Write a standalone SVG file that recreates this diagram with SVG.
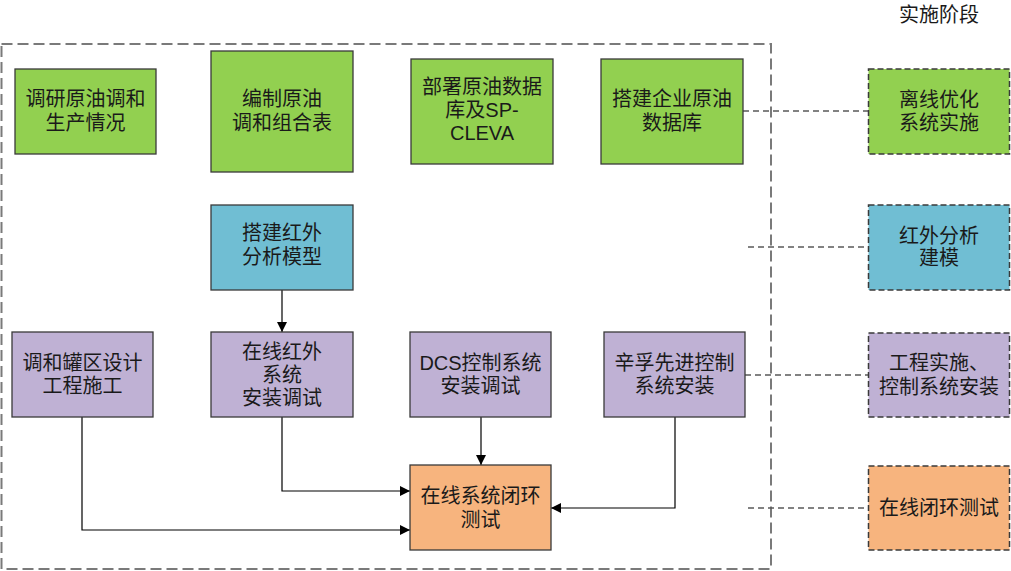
<svg xmlns="http://www.w3.org/2000/svg" width="1011" height="571" viewBox="0 0 1011 571">
  <defs>
    <marker id="arrow" viewBox="0 0 10 10" refX="10" refY="5" markerWidth="10" markerHeight="10" markerUnits="userSpaceOnUse" orient="auto">
      <path d="M0,0 L10,5 L0,10 Z" fill="#000"/>
    </marker>
    <style>
      text { font-family: "Liberation Sans", "Noto Sans CJK SC", sans-serif; font-size: 20px; fill: #1a1a1a; text-anchor: middle; }
      .box { stroke: #3a3a3a; stroke-width: 1.3; }
      .stage { stroke: #3a3a3a; stroke-width: 1.5; stroke-dasharray: 6 3; }
      .green { fill: #92D050; }
      .blue { fill: #70BED3; }
      .purple { fill: #BFB1D4; }
      .orange { fill: #F7B47E; }
      .flow { fill: none; stroke: #000; stroke-width: 1.2; }
      .link { fill: none; stroke: #5a5a5a; stroke-width: 1.5; stroke-dasharray: 6 4; }
    </style>
  </defs>

  <rect width="1011" height="571" fill="#fff"/>

  <!-- outer boundary of the implementation tasks -->
  <rect x="1.5" y="44" width="769.5" height="525" fill="none" stroke="#7a7a7a" stroke-width="2" stroke-dasharray="11 5"/>

  <text x="939" y="22">实施阶段</text>

  <!-- connectors -->
  <g id="connectors">
    <line class="link" x1="743" y1="111" x2="868" y2="111"/>
    <line class="link" x1="748" y1="247" x2="868" y2="247"/>
    <line class="link" x1="745" y1="375" x2="868" y2="375"/>
    <line class="link" x1="748" y1="508" x2="868" y2="508"/>

    <line class="flow" x1="282" y1="290" x2="282" y2="332" marker-end="url(#arrow)"/>
    <polyline class="flow" points="282,417 282,491 410,491" marker-end="url(#arrow)"/>
    <polyline class="flow" points="82,417 82,530 410,530" marker-end="url(#arrow)"/>
    <line class="flow" x1="481" y1="417" x2="481" y2="465" marker-end="url(#arrow)"/>
    <polyline class="flow" points="675,417 675,508 551,508" marker-end="url(#arrow)"/>
  </g>

  <!-- task nodes -->
  <g id="n-survey">
    <rect class="box green" x="15" y="69" width="141" height="85"/>
    <text><tspan x="85.5" y="106">调研原油调和</tspan><tspan x="85.5" y="130">生产情况</tspan></text>
  </g>
  <g id="n-recipe">
    <rect class="box green" x="211" y="51" width="142" height="121"/>
    <text><tspan x="282" y="106">编制原油</tspan><tspan x="282" y="130">调和组合表</tspan></text>
  </g>
  <g id="n-deploy">
    <rect class="box green" x="411" y="59" width="142" height="105"/>
    <text><tspan x="482" y="94">部署原油数据</tspan><tspan x="482" y="117">库及SP-</tspan><tspan x="482" y="140">CLEVA</tspan></text>
  </g>
  <g id="n-database">
    <rect class="box green" x="601" y="59" width="142" height="105"/>
    <text><tspan x="672" y="106">搭建企业原油</tspan><tspan x="672" y="130">数据库</tspan></text>
  </g>
  <g id="n-ir-model">
    <rect class="box blue" x="211" y="205" width="142" height="85"/>
    <text><tspan x="282" y="240">搭建红外</tspan><tspan x="282" y="264">分析模型</tspan></text>
  </g>
  <g id="n-tank">
    <rect class="box purple" x="12" y="332" width="141" height="85"/>
    <text><tspan x="82.5" y="370">调和罐区设计</tspan><tspan x="82.5" y="393">工程施工</tspan></text>
  </g>
  <g id="n-ir-online">
    <rect class="box purple" x="211" y="332" width="142" height="85"/>
    <text><tspan x="282" y="359">在线红外</tspan><tspan x="282" y="382">系统</tspan><tspan x="282" y="405">安装调试</tspan></text>
  </g>
  <g id="n-dcs">
    <rect class="box purple" x="410" y="332" width="141" height="85"/>
    <text><tspan x="480.5" y="370">DCS控制系统</tspan><tspan x="480.5" y="393">安装调试</tspan></text>
  </g>
  <g id="n-apc">
    <rect class="box purple" x="604" y="332" width="141" height="85"/>
    <text><tspan x="674.5" y="370">辛孚先进控制</tspan><tspan x="674.5" y="393">系统安装</tspan></text>
  </g>
  <g id="n-closed-loop">
    <rect class="box orange" x="410" y="465" width="141" height="85"/>
    <text><tspan x="480.5" y="503">在线系统闭环</tspan><tspan x="480.5" y="527">测试</tspan></text>
  </g>

  <!-- stage nodes -->
  <g id="s-offline">
    <rect class="stage green" x="868.5" y="69" width="141" height="85"/>
    <text><tspan x="939" y="107">离线优化</tspan><tspan x="939" y="130">系统实施</tspan></text>
  </g>
  <g id="s-ir">
    <rect class="stage blue" x="868.5" y="205" width="141" height="85"/>
    <text><tspan x="939" y="243">红外分析</tspan><tspan x="939" y="265">建模</tspan></text>
  </g>
  <g id="s-install">
    <rect class="stage purple" x="868.5" y="333" width="141" height="84"/>
    <text><tspan x="939" y="370">工程实施、</tspan><tspan x="939" y="394">控制系统安装</tspan></text>
  </g>
  <g id="s-test">
    <rect class="stage orange" x="868.5" y="466" width="141" height="84"/>
    <text x="939" y="515">在线闭环测试</text>
  </g>
</svg>
